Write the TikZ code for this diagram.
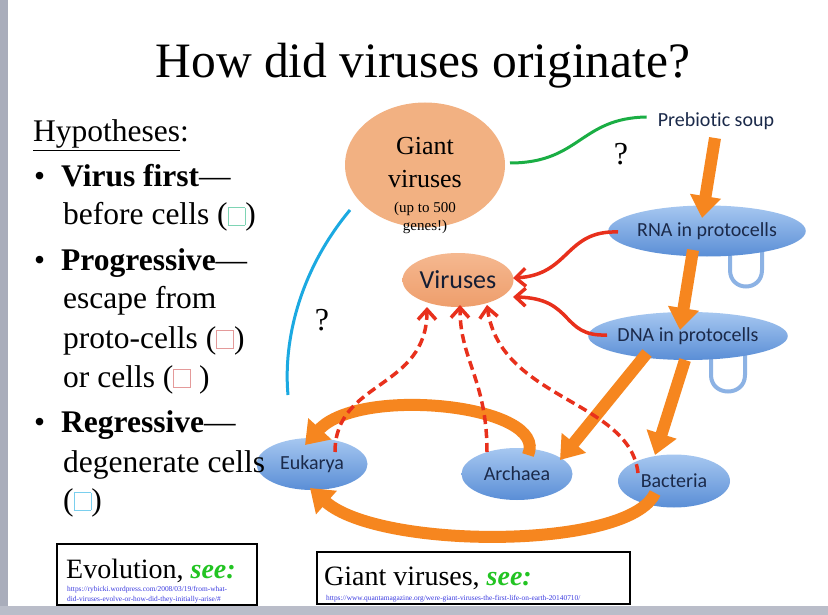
\documentclass[tikz,border=0pt]{standalone}
\usepackage{fontspec}
\setmainfont{Liberation Serif}
\newfontfamily\calib[Ligatures=NoCommon]{Carlito}
\usetikzlibrary{arrows.meta,shapes.geometric}
\definecolor{orng}{HTML}{F6861F}
\definecolor{redarr}{HTML}{E8301C}
\definecolor{bline}{HTML}{1BA9E1}
\definecolor{gline}{HTML}{1AAE44}
\definecolor{blueTop}{HTML}{A6C7F0}
\definecolor{blueBot}{HTML}{5A8ED6}
\definecolor{peach}{HTML}{F2B182}
\definecolor{peachTop}{HTML}{F5B890}
\definecolor{peachBot}{HTML}{EE9E6C}
\definecolor{loopblue}{HTML}{8CB2E4}
\definecolor{navy}{HTML}{1B2A4A}
\definecolor{barg}{HTML}{A9ADBB}
\definecolor{seegreen}{HTML}{22C422}
\definecolor{urlblue}{HTML}{3A3AE0}
\definecolor{sqgreen}{HTML}{7ED4B4}
\definecolor{sqred}{HTML}{E49A9A}
\definecolor{sqblue}{HTML}{7ACFEE}
\newcommand{\sqbox}[1]{{\color{#1}\setlength{\fboxsep}{0pt}\setlength{\fboxrule}{0.9pt}\fbox{\rule{0pt}{17pt}\hspace{16pt}}}}
\tikzset{
  blueell/.style={ellipse, inner sep=0pt, top color=blueTop, bottom color=blueBot, text=navy, font=\calib\fontsize{20}{24}\selectfont},
  lt/.style={anchor=base west, inner sep=0pt, font=\fontsize{31.5}{36}\selectfont},
  orarrow/.style={draw=orng, line width=12pt, -{Triangle[width=30pt,length=22pt]}},
  redsolid/.style={draw=redarr, line width=3.5pt, -{Straight Barb[width=18pt,length=10pt]}},
  reddash/.style={draw=redarr, line width=3.5pt, dash pattern=on 9pt off 5pt, -{Straight Barb[width=18pt,length=10pt]}},
  loopline/.style={draw=loopblue, line width=4pt},
  urltext/.style={anchor=base west, inner sep=0pt, text=urlblue, font=\fontsize{7.4}{9}\selectfont},
  boxtext/.style={anchor=base west, inner sep=0pt, font=\fontsize{28}{32}\selectfont},
  refbox/.style={draw=black, line width=1.2pt, inner sep=0pt},
  gvtext/.style={anchor=base, inner sep=0pt},
}
\begin{document}
\begin{tikzpicture}[x=1pt,y=-1pt]
\useasboundingbox (0,0) rectangle (828,615);
\fill[white] (0,0) rectangle (828,615);
\fill[barg] (0,0) rectangle (8,615);
\fill[barg!80] (0,606) rectangle (828,615);

% title
\node[anchor=base, inner sep=0pt, font=\fontsize{49.5}{56}\selectfont] (title) at (423,78) {How did viruses originate?};

% nodes
\node[ellipse, fill=peach, minimum width=160pt, minimum height=125pt, inner sep=0pt] (giant) at (425,165) {};
\node[gvtext, font=\fontsize{26}{30}\selectfont] (gv1) at (425,155) {Giant};
\node[gvtext, font=\fontsize{26}{30}\selectfont] (gv2) at (425,188) {viruses};
\node[gvtext, font=\fontsize{15}{18}\selectfont] (gv3) at (425,212) {(up to 500};
\node[gvtext, font=\fontsize{15}{18}\selectfont] (gv4) at (425,230) {genes!)};

\node[inner sep=0pt, text=navy, font=\calib\fontsize{20}{24}\selectfont] (soup) at (716,121) {Prebiotic soup};

% loops (behind ellipses)
\draw[loopline] (730,250) -- (730,270) .. controls (730,292) and (762,292) .. (762,270) -- (762,250);
\draw[loopline] (711,355) -- (711,375) .. controls (711,397) and (745,397) .. (745,375) -- (745,355);

\node[blueell, minimum width=170pt, minimum height=51pt] (rna) at (707,231) {RNA in protocells};
\node[blueell, minimum width=170pt, minimum height=48pt] (dna) at (688,336) {DNA in protocells};
\node[ellipse, inner sep=0pt, top color=peachTop, bottom color=peachBot, text=navy!70!black, font=\calib\fontsize{26}{30}\selectfont, minimum width=111pt, minimum height=54pt] (vir) at (458,280) {Viruses};
\node[blueell, minimum width=111pt, minimum height=52pt] (euk) at (312,464) {Eukarya};
\node[blueell, minimum width=111pt, minimum height=52pt] (arch) at (517,474) {Archaea};
\node[blueell, minimum width=112pt, minimum height=53pt] (bac) at (674,481) {Bacteria};

% orange arrows
\draw[orarrow] ([shift={(-1,17)}]soup.center) -- ([shift={(-5,-13)}]rna.center);
\draw[orarrow] ([shift={(-14,19)}]rna.center) -- ([shift={(-8,-6)}]dna.center);
\draw[orarrow] ([shift={(-41,17)}]dna.center) -- ([shift={(43,-14)}]arch.center);
\draw[orarrow] ([shift={(-3,24)}]dna.center) -- ([shift={(-19,-26)}]bac.center);
\draw[orarrow] ([shift={(11,-19)}]arch.center) .. controls (550,405) and (360,385) .. ([shift={(-7,-19)}]euk.center);
\draw[orarrow] ([shift={(-19,12)}]bac.center) .. controls (630,550) and (380,550) .. ([shift={(-2,24)}]euk.center);

% red arrows
\draw[redsolid] ([shift={(-89,1)}]rna.center) .. controls (565,230) and (570,275) .. ([shift={(55,-2)}]vir.center);
\draw[redsolid] ([shift={(-81,-1)}]dna.center) .. controls (560,337) and (575,298) .. ([shift={(55,17)}]vir.center);
\draw[reddash] ([shift={(23,-12)}]euk.center) .. controls (335,380) and (427,390) .. ([shift={(-31,27)}]vir.center);
\draw[reddash] ([shift={(-30,-22)}]arch.center) .. controls (487,380) and (460,360) .. ([shift={(2,25)}]vir.center);
\draw[reddash] ([shift={(-36,-8)}]bac.center) .. controls (630,400) and (500,400) .. ([shift={(29,25)}]vir.center);

% hypotheses lines
\coordinate (blueend) at (288,395);
\coordinate (greenend) at ([shift={(-11,-4)}]soup.west);
\draw[draw=bline, line width=3pt] ([shift={(-75,45)}]giant.center) .. controls (300,270) and (283,340) .. (blueend);
\draw[draw=gline, line width=3pt] ([shift={(85,-2)}]giant.center) .. controls (580,163) and (580,118) .. (greenend);
\node[anchor=base, inner sep=0pt, font=\fontsize{32}{36}\selectfont] (q1) at (621,165) {?};
\node[anchor=base, inner sep=0pt, font=\fontsize{32}{36}\selectfont] (q2) at (322,330) {?};

% left text
\node[lt] (h0) at (33,142) {\underline{Hypotheses}:};
\node[lt] (b1) at (34,187) {•};
\node[lt] (l1) at (61,187) {\textbf{Virus first}—};
\node[lt] (l2) at (63,225) {before cells (\sqbox{sqgreen})};
\node[lt] (b2) at (34,270) {•};
\node[lt] (l3) at (61,270) {\textbf{Progressive}—};
\node[lt] (l4) at (63,308) {escape from};
\node[lt] (l5) at (63,348) {proto-cells (\sqbox{sqred})};
\node[lt] (l6) at (63,387) {or cells (\sqbox{sqred} )};
\node[lt] (b3) at (34,432) {•};
\node[lt] (l7) at (61,432) {\textbf{Regressive}—};
\node[lt] (l8) at (63,472) {degenerate cells};
\node[lt] (l9) at (63,510) {(\sqbox{sqblue})};

% reference boxes
\node[refbox, minimum width=200pt, minimum height=61pt] (box1) at (157,574.5) {};
\node[boxtext] (e1) at (66,578) {Evolution, \textcolor{seegreen}{\textbf{\textit{see:}}}};
\node[urltext] (e2) at (67,591) {https://rybicki.wordpress.com/2008/03/19/from-what-};
\node[urltext] (e3) at (67,601) {did-viruses-evolve-or-how-did-they-initially-arise/\#};
\node[refbox, minimum width=313pt, minimum height=52pt] (box2) at (473.5,578) {};
\node[boxtext] (g1) at (324,585) {Giant viruses, \textcolor{seegreen}{\textbf{\textit{see:}}}};
\node[urltext] (g2) at (326,600) {https://www.quantamagazine.org/were-giant-viruses-the-first-life-on-earth-20140710/};
\end{tikzpicture}
\end{document}
